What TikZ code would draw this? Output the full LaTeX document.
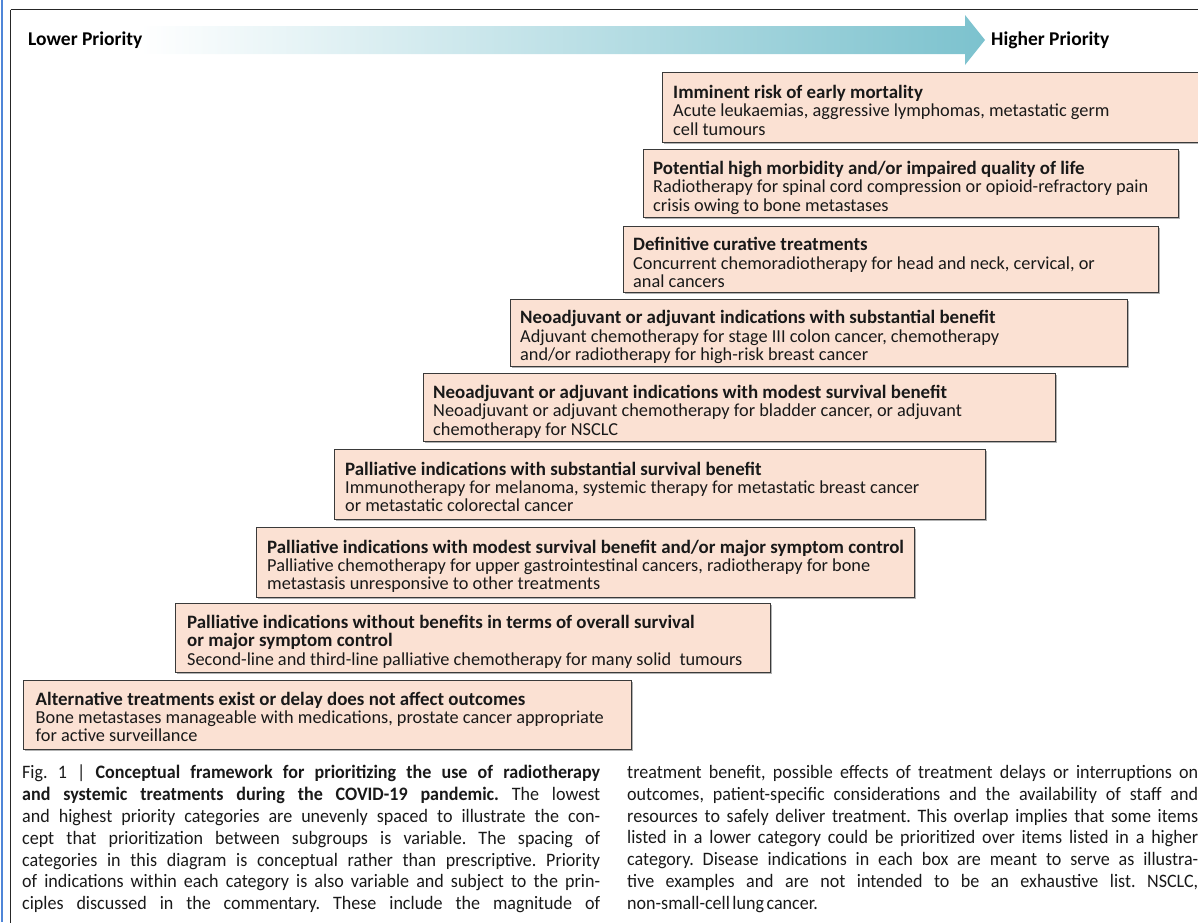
\documentclass[tikz,border=0pt]{standalone}
\usepackage{fontspec}
\setmainfont{Carlito}
\newfontfamily\capfam[FakeStretch=0.95]{Carlito}
\usetikzlibrary{shadows}
\definecolor{boxfill}{HTML}{FBE1D3}
\definecolor{boxline}{HTML}{3A3A3A}
\definecolor{arrowteal}{HTML}{7CC2CE}
\definecolor{sideblue}{HTML}{4F86D8}
\newcommand\boxfont{\fontsize{18.3}{18.4}\selectfont}
\newcommand\ttl[1]{{\fontsize{18.9}{18.4}\selectfont\bfseries #1}}
\newcommand\capfont{\capfam\fontsize{19}{21.8}\selectfont\frenchspacing
  \spaceskip=0.13em plus 0.6em minus 0.04em\xspaceskip=\spaceskip}
\newlength\capw
\newcommand\jline[1]{\hbox to \capw{#1}}
\tikzset{
  catbox/.style={draw=boxline, fill=boxfill, line width=1.2pt, anchor=north west, inner sep=0pt,
    drop shadow={shadow xshift=1.3pt, shadow yshift=-1.3pt, fill=black, opacity=0.3}},
  cattext/.style={anchor=north west, inner sep=0pt, align=left, font=\boxfont, text=black!90},
  prio/.style={anchor=west, inner sep=0pt, font=\fontsize{19.5}{20}\selectfont\bfseries},
  captext/.style={anchor=north west, inner sep=0pt, font=\capfont, text=black!90},
}
\begin{document}
\begin{tikzpicture}[x=1pt,y=-1pt]
\useasboundingbox (0,0) rectangle (1198,922);
% side lines and frame
\draw[line width=2pt, sideblue] (1.5,0) -- (1.5,922);
\draw[line width=1.8pt, black!85] (10.5,9.5) -- (1210,9.5);
\draw[line width=1.6pt, black!85] (10.5,9.5) -- (10.5,930);
% priority arrow
\shade[left color=white, right color=arrowteal]
  (140,26) -- (965,26) -- (965,15) -- (985,40) -- (965,65) -- (965,54) -- (140,54) -- cycle;
\node[prio] (lowp) at (28,40) {Lower Priority};
\node[prio] (highp) at (991,40) {Higher Priority};
% category boxes
\node[catbox, minimum width=560pt, minimum height=70pt] (b1) at (662,72) {};
\node[cattext] (t1) at ([xshift=11pt, yshift=-13pt]b1.north west)
  {\ttl{Imminent risk of early mortality}\\ Acute leukaemias, aggressive lymphomas, metastatic germ\\ cell tumours};
\node[catbox, minimum width=535pt, minimum height=68pt] (b2) at (643,149) {};
\node[cattext] (t2) at ([xshift=10pt, yshift=-12pt]b2.north west)
  {\ttl{Potential high morbidity and/or impaired quality of life}\\ Radiotherapy for spinal cord compression or opioid-refractory pain\\ crisis owing to bone metastases};
\node[catbox, minimum width=535pt, minimum height=66pt] (b3) at (623,226) {};
\node[cattext] (t3) at ([xshift=10pt, yshift=-11.5pt]b3.north west)
  {\ttl{Definitive curative treatments}\\ Concurrent chemoradiotherapy for head and neck, cervical, or\\ anal cancers};
\node[catbox, minimum width=617pt, minimum height=67pt] (b4) at (510,299) {};
\node[cattext] (t4) at ([xshift=10pt, yshift=-11.5pt]b4.north west)
  {\ttl{Neoadjuvant or adjuvant indications with substantial benefit}\\ Adjuvant chemotherapy for stage III colon cancer, chemotherapy\\ and/or radiotherapy for high-risk breast cancer};
\node[catbox, minimum width=632pt, minimum height=68pt] (b5) at (423,373) {};
\node[cattext] (t5) at ([xshift=10pt, yshift=-12pt]b5.north west)
  {\ttl{Neoadjuvant or adjuvant indications with modest survival benefit}\\ Neoadjuvant or adjuvant chemotherapy for bladder cancer, or adjuvant\\ chemotherapy for NSCLC};
\node[catbox, minimum width=651pt, minimum height=70pt] (b6) at (334,449) {};
\node[cattext] (t6) at ([xshift=11pt, yshift=-12.5pt]b6.north west)
  {\ttl{Palliative indications with substantial survival benefit}\\ Immunotherapy for melanoma, systemic therapy for metastatic breast cancer\\ or metastatic colorectal cancer};
\node[catbox, minimum width=658pt, minimum height=70pt] (b7) at (256,527) {};
\node[cattext] (t7) at ([xshift=11pt, yshift=-12.5pt]b7.north west)
  {\ttl{Palliative indications with modest survival benefit and/or major symptom control}\\ Palliative chemotherapy for upper gastrointestinal cancers, radiotherapy for bone\\ metastasis unresponsive to other treatments};
\node[catbox, minimum width=595pt, minimum height=69pt] (b8) at (175,603) {};
\node[cattext] (t8) at ([xshift=12pt, yshift=-12pt]b8.north west)
  {\ttl{Palliative indications without benefits in terms of overall survival}\\ \ttl{or major symptom control}\\ Second-line and third-line palliative chemotherapy for many solid\ \ tumours};
\node[catbox, minimum width=608pt, minimum height=69pt] (b9) at (23,680) {};
\node[cattext] (t9) at ([xshift=12.5pt, yshift=-11.5pt]b9.north west)
  {\ttl{Alternative treatments exist or delay does not affect outcomes}\\ Bone metastases manageable with medications, prostate cancer appropriate\\ for active surveillance};
% caption
\node[captext] (capL) at (22,765) {\vbox{\capw=578pt
\jline{Fig. 1 | \textbf{Conceptual framework for prioritizing the use of radiotherapy}}%
\jline{\textbf{and systemic treatments during the COVID-19 pandemic.} The lowest}%
\jline{and highest priority categories are unevenly spaced to illustrate the con-}%
\jline{cept that prioritization between subgroups is variable. The spacing of}%
\jline{categories in this diagram is conceptual rather than prescriptive. Priority}%
\jline{of indications within each category is also variable and subject to the prin-}%
\jline{ciples discussed in the commentary. These include the magnitude of}}};
\node[captext] (capR) at (627,765) {\vbox{\capw=571pt
\jline{treatment benefit, possible effects of treatment delays or interruptions on}%
\jline{outcomes, patient-specific considerations and the availability of staff and}%
\jline{resources to safely deliver treatment. This overlap implies that some items}%
\jline{listed in a lower category could be prioritized over items listed in a higher}%
\jline{category. Disease indications in each box are meant to serve as illustra-}%
\jline{tive examples and are not intended to be an exhaustive list. NSCLC,}%
\jline{non-small-cell lung cancer.\hfil}}};
\end{tikzpicture}
\end{document}
